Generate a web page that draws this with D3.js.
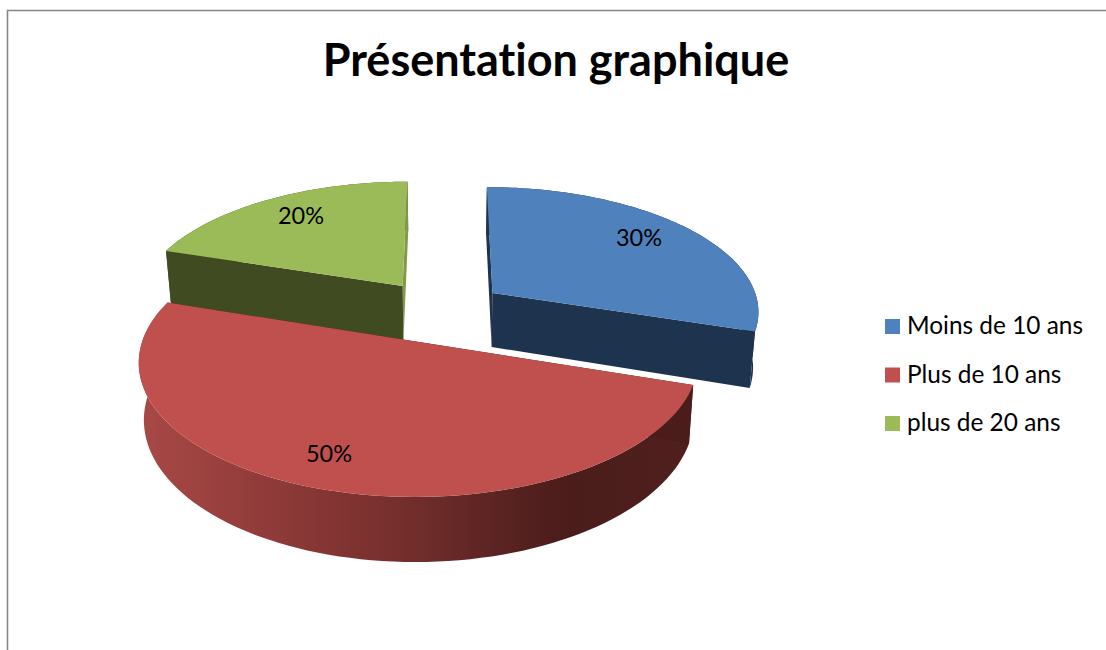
<!DOCTYPE html>
<html>
<head>
<meta charset="utf-8">
<script src="https://cdnjs.cloudflare.com/ajax/libs/d3/7.8.5/d3.min.js"></script>
<style>
html, body { margin: 0; padding: 0; background: #fff; overflow: hidden; }
svg { display: block; }
text { font-family: Lato, Carlito, sans-serif; fill: #000; font-variant-ligatures: none; }
</style>
</head>
<body>
<svg id="chart" width="1106" height="650"></svg>
<script>
let chartTitle = "Présentation graphique";
let categories = ["Moins de 10 ans", "Plus de 10 ans", "plus de 20 ans"];
let shares = [30, 50, 20];
let shareLabels = ["30%", "50%", "20%"];

let topColors = ["#4f81bd", "#bf504d", "#9bbb59"];
let wallColors = ["#1e334e", "url(#redWall)", "#404b22"];
let startFaceColors = ["#1e334e", "#4a1c1a", "#404b22"];
let endFaceColors = ["#1e334e", "#4a1c1a", "#7f9a48"];

// where each slice sits on the ground plane, exploded away from the middle
let sliceX = [50, -26, -45];
let sliceY = [-107.5, 0, -123.7];
let sliceDepth = [57, 56, 59];
let labelX = [639, 329, 301];
let labelY = [246, 462, 224];

let radius = 277;
let vanishX = 445;
let vanishY = 342;
let tilt = 0.481;
let persp = 0.00105;
let shrink = 0.0003;

// ground plane point -> screen point, with a bit of perspective
function project(x, y, z) {
    let u = y * tilt;
    let f = 1 / (1 - persp * u);
    let sx = vanishX + x * f * (1 - shrink * z);
    let sy = vanishY + (u + z) * f;
    return [sx, sy];
}

function rimPoint(i, angle, z) {
    return project(sliceX[i] + radius * Math.sin(angle), sliceY[i] - radius * Math.cos(angle), z);
}

function arcAngles(d) {
    let steps = 90;
    return d3.range(steps + 1).map(k => d.startAngle + (d.endAngle - d.startAngle) * k / steps);
}

function render() {
    let svg = d3.select("#chart");
    let line = d3.line();
    let closed = pts => line(pts) + "Z";

    // frame: only the top and left edges are in the picture
    svg.append("path")
        .attr("d", "M7.5,650V10.5H1106")
        .attr("fill", "none")
        .attr("stroke", "#868686")
        .attr("stroke-width", 1.6);

    svg.append("text")
        .attr("x", 556)
        .attr("y", 76)
        .attr("text-anchor", "middle")
        .attr("font-size", "45px")
        .attr("font-weight", "bold")
        .text(chartTitle);

    let slices = d3.pie().sort(null).startAngle(0).endAngle(2 * Math.PI)(shares);

    let wallPoints = d => arcAngles(d).map(a => rimPoint(d.index, a, 0))
        .concat(arcAngles(d).reverse().map(a => rimPoint(d.index, a, sliceDepth[d.index])));

    let redExtent = d3.extent(wallPoints(slices[1]), p => p[0]);
    let wallShade = d3.scaleLinear()
        .domain([0, 0.27, 0.47, 0.66, 0.78, 1])
        .range(["#a84946", "#8c3937", "#752f2d", "#592321", "#4a1c1a", "#4f201e"]);

    let gradient = svg.append("defs").append("linearGradient")
        .attr("id", "redWall")
        .attr("gradientUnits", "userSpaceOnUse")
        .attr("x1", redExtent[0])
        .attr("x2", redExtent[1])
        .attr("y1", 0)
        .attr("y2", 0);

    gradient.selectAll("stop")
        .data(wallShade.domain())
        .enter()
        .append("stop")
        .attr("offset", d => d)
        .attr("stop-color", d => wallShade(d));

    // back slices first, the big red one goes over them
    let order = [2, 0, 1];
    let groups = svg.selectAll(".slice")
        .data(order.map(i => slices[i]))
        .enter()
        .append("g")
        .classed("slice", true);

    groups.append("path")
        .attr("d", d => closed(wallPoints(d)))
        .attr("fill", d => wallColors[d.index]);

    // the two cut faces of the slice
    [["endAngle", endFaceColors], ["startAngle", startFaceColors]].forEach(([key, colors]) => {
        groups.append("path")
            .attr("d", d => closed([
                project(sliceX[d.index], sliceY[d.index], 0),
                rimPoint(d.index, d[key], 0),
                rimPoint(d.index, d[key], sliceDepth[d.index]),
                project(sliceX[d.index], sliceY[d.index], sliceDepth[d.index])
            ]))
            .attr("fill", d => colors[d.index]);
    });

    groups.append("path")
        .attr("d", d => closed([project(sliceX[d.index], sliceY[d.index], 0)]
            .concat(arcAngles(d).map(a => rimPoint(d.index, a, 0)))))
        .attr("fill", d => topColors[d.index]);

    svg.selectAll(".share")
        .data(shareLabels)
        .enter()
        .append("text")
        .classed("share", true)
        .attr("x", (d, i) => labelX[i])
        .attr("y", (d, i) => labelY[i])
        .attr("text-anchor", "middle")
        .attr("font-size", "23.5px")
        .text(d => d);

    let legendY = d3.scalePoint().domain(categories).range([326.5, 423.5]);

    svg.selectAll(".legend-key")
        .data(categories)
        .enter()
        .append("rect")
        .classed("legend-key", true)
        .attr("x", 885)
        .attr("y", d => legendY(d) - 7.5)
        .attr("width", 15)
        .attr("height", 15)
        .attr("fill", (d, i) => topColors[i]);

    svg.selectAll(".legend-text")
        .data(categories)
        .enter()
        .append("text")
        .classed("legend-text", true)
        .attr("x", 907)
        .attr("y", d => legendY(d) + 7.5)
        .attr("font-size", "24.4px")
        .text(d => d);
}

render();
</script>
</body>
</html>
